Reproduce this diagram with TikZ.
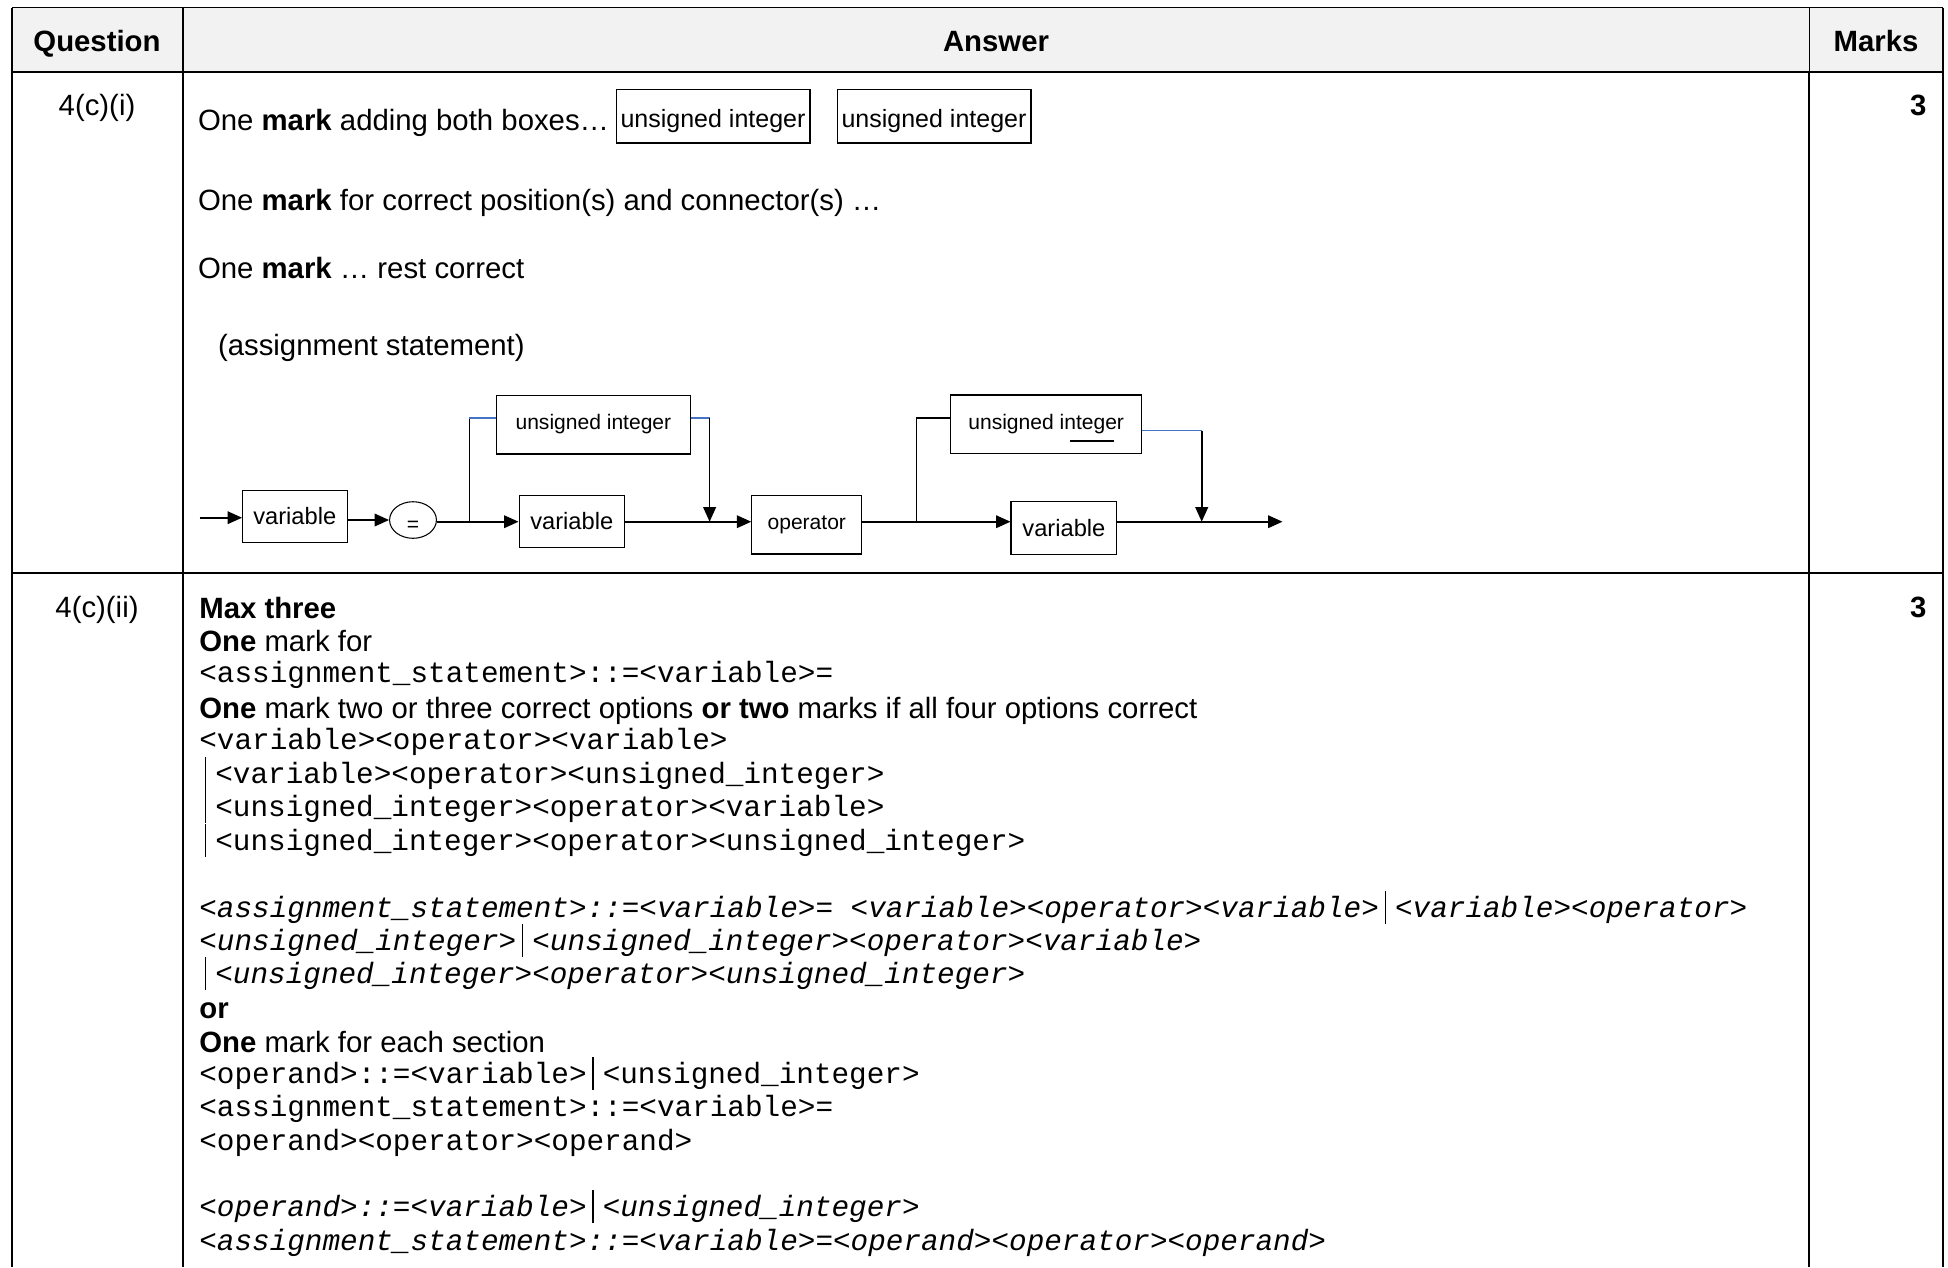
\documentclass[tikz,border=0pt]{standalone}
\usepackage{fontspec}
\setmainfont{Liberation Sans}
\setmonofont{Liberation Mono}
\usetikzlibrary{arrows.meta,shapes.geometric,positioning}
\definecolor{headgrey}{RGB}{242,242,242}
\definecolor{linkblue}{RGB}{68,114,196}
\tikzset{
	txt/.style={anchor=west, inner sep=0pt, text height=8pt, text depth=0pt,
			font=\fontsize{11.15}{13}\selectfont},
	mono/.style={txt, font=\fontsize{11.15}{13}\selectfont\ttfamily},
	imono/.style={txt, font=\fontsize{11.15}{13}\selectfont\ttfamily\itshape},
	headtxt/.style={inner sep=0pt, text height=8pt, text depth=0pt,
			font=\fontsize{11.15}{13}\selectfont\bfseries},
	qtxt/.style={inner sep=0pt, text height=8pt, text depth=0pt,
			font=\fontsize{11.15}{13}\selectfont},
	answerbox/.style={draw, line width=0.4pt, inner sep=0pt,
			minimum width=73.7pt, minimum height=20.5pt,
			text height=9pt, text depth=0pt,
			font=\fontsize{9.5}{11}\selectfont},
	synbox/.style={draw, line width=0.4pt, inner sep=0pt},
	flow/.style={line width=0.6pt, -{Triangle[length=5.5pt,width=4.8pt]}},
	wire/.style={line width=0.6pt},
	bluewire/.style={line width=0.5pt, draw=linkblue},
	thickrule/.style={line width=0.85pt},
	thinrule/.style={line width=0.4pt}
}
\newcommand{\altbar}{\hspace{2.2pt}\rule[-2.5pt]{0.4pt}{12.5pt}\hspace{3.5pt}}

\begin{document}
\begin{tikzpicture}[x=0.38pt, y=-0.38pt]
	\useasboundingbox (0,0) rectangle (1948,1267);

	% table frame
	\fill[headgrey] (12,7.5) rectangle (1943,72);
	\draw[line width=0.5pt] (12,7.5) -- (1943,7.5);
	\draw[thinrule] (183,7.5) -- (183,72) (1809,7.5) -- (1809,72);
	\draw[thickrule] (12,7.5) -- (12,1267) (1943,7.5) -- (1943,1267);
	\draw[thickrule] (183,72) -- (183,1267) (1809,72) -- (1809,1267);
	\draw[line width=1.1pt] (12,72) -- (1943,72);
	\draw[thickrule] (12,573) -- (1943,573);

	\node[headtxt] (hq) at (97,41) {Question};
	\node[headtxt] (ha) at (996,41) {Answer};
	\node[headtxt] (hm) at (1876,41) {Marks};

	% part (i)
	\node[qtxt] (q1) at (97,105) {4(c)(i)};
	\node[headtxt, anchor=east] (m1) at (1927,105) {3};
	\node[txt] (l1) at (197.5,120) {One \textbf{mark} adding both boxes…};
	\node[answerbox] (boxa) at (713,116) {unsigned integer};
	\node[answerbox] (boxb) at (934,116) {unsigned integer};
	\node[txt] (l2) at (197.5,200) {One \textbf{mark} for correct position(s) and connector(s) …};
	\node[txt] (l3) at (197.5,268) {One \textbf{mark} … rest correct};
	\node[txt] (l4) at (217.5,345) {(assignment statement)};

	% syntax diagram
	\node[synbox, minimum width=39.7pt, minimum height=20pt, font=\fontsize{9}{10}\selectfont] (var1) at (294.8,516.4) {variable};
	\node[draw, ellipse, line width=0.4pt, inner sep=0pt, minimum width=17.8pt, minimum height=13.9pt,
		font=\fontsize{8}{9}\selectfont] (eq) at (413,520) {\raisebox{-4.4pt}[0pt][0pt]{=}};
	\node[synbox, minimum width=74pt, minimum height=22.4pt, font=\fontsize{8}{9}\selectfont] (ui1) at (593.4,424.5) {unsigned integer};
	\node[synbox, minimum width=40.1pt, minimum height=19.9pt, font=\fontsize{9}{10}\selectfont] (var2) at (571.8,521.2) {variable\hspace{5.9pt}};
	\node[synbox, minimum width=41.8pt, minimum height=22.4pt, font=\fontsize{8}{9}\selectfont] (op) at (806.8,524.5) {operator};
	\node[synbox, minimum width=72.5pt, minimum height=22.2pt, font=\fontsize{8}{9}\selectfont] (ui2) at (1046.2,424.2) {unsigned integer};
	\node[synbox, minimum width=40.2pt, minimum height=19.9pt, font=\fontsize{9}{10}\selectfont] (var3) at (1063.9,527.9) {variable};

	\coordinate (in) at (199.6,517.7);
	\coordinate (br1) at (469.3,521.7);
	\coordinate (j1) at (709.6,521.7);
	\coordinate (br2) at (916.4,521.7);
	\coordinate (j2) at (1201.7,521.7);
	\coordinate (out) at (1282.5,521.7);
	\coordinate (t1) at (469.3,418);
	\coordinate (t2) at (709.6,418);
	\coordinate (t3) at (916.4,417.7);
	\coordinate (t4) at (1201.7,430.7);

	\draw[flow] (in) -- (in -| var1.west);
	\draw[flow] (var1.east |- eq.west) -- (eq.west);
	\draw[flow] (eq.east |- br1) -- (br1 -| var2.west);
	\draw[wire] (br1) -- (t1);
	\draw[bluewire] (t1) -- (t1 -| ui1.west);
	\draw[bluewire] (ui1.east |- t2) -- (t2);
	\draw[flow] (t2) -- (j1);
	\draw[wire] (var2.east |- j1) -- (j1);
	\draw[flow] (j1) -- (j1 -| op.west);
	\draw[flow] (op.east |- br2) -- (br2 -| var3.west);
	\draw[wire] (br2) -- (t3) -- (t3 -| ui2.west);
	\draw[bluewire] (ui2.east |- t4) -- (t4);
	\draw[flow] (t4) -- (j2);
	\draw[flow] (var3.east |- j2) -- (out);
	\draw[wire] (1070,440.7) -- (1113.8,440.7);

	% part (ii)
	\node[qtxt] (q2) at (97,607) {4(c)(ii)};
	\node[headtxt, anchor=east] (m2) at (1927,607) {3};
	\node[txt] (r1) at (198.8,607.5) {\textbf{Max three}};
	\node[txt] (r2) at (198.8,641) {\textbf{One} mark for};
	\node[mono] (r3) at (198.8,672) {<assignment\_statement>::=<variable>=};
	\node[txt] (r4) at (198.8,708) {\textbf{One} mark two or three correct options \textbf{or two} marks if all four options correct};
	\node[mono] (r5) at (198.8,739) {<variable><operator><variable>};
	\node[mono] (r6) at (198.8,772.7) {\altbar<variable><operator><unsigned\_integer>};
	\node[mono] (r7) at (198.8,806) {\altbar<unsigned\_integer><operator><variable>};
	\node[mono] (r8) at (198.8,839.8) {\altbar<unsigned\_integer><operator><unsigned\_integer>};
	\node[imono] (r9) at (198.8,907) {<assignment\_statement>::=<variable>= <variable><operator><variable>\altbar<variable><operator>};
	\node[imono] (r10) at (198.8,940) {<unsigned\_integer>\altbar<unsigned\_integer><operator><variable>};
	\node[imono] (r11) at (198.8,972.7) {\altbar<unsigned\_integer><operator><unsigned\_integer>};
	\node[txt] (r12) at (198.8,1007.5) {\textbf{or}};
	\node[txt] (r13) at (198.8,1042) {\textbf{One} mark for each section};
	\node[mono] (r14) at (198.8,1073) {<operand>::=<variable>\altbar<unsigned\_integer>};
	\node[mono] (r15) at (198.8,1105.6) {<assignment\_statement>::=<variable>=};
	\node[mono] (r16) at (198.8,1140) {<operand><operator><operand>};
	\node[imono] (r17) at (198.8,1206) {<operand>::=<variable>\altbar<unsigned\_integer>};
	\node[imono] (r18) at (198.8,1240) {<assignment\_statement>::=<variable>=<operand><operator><operand>};
\end{tikzpicture}
\end{document}
